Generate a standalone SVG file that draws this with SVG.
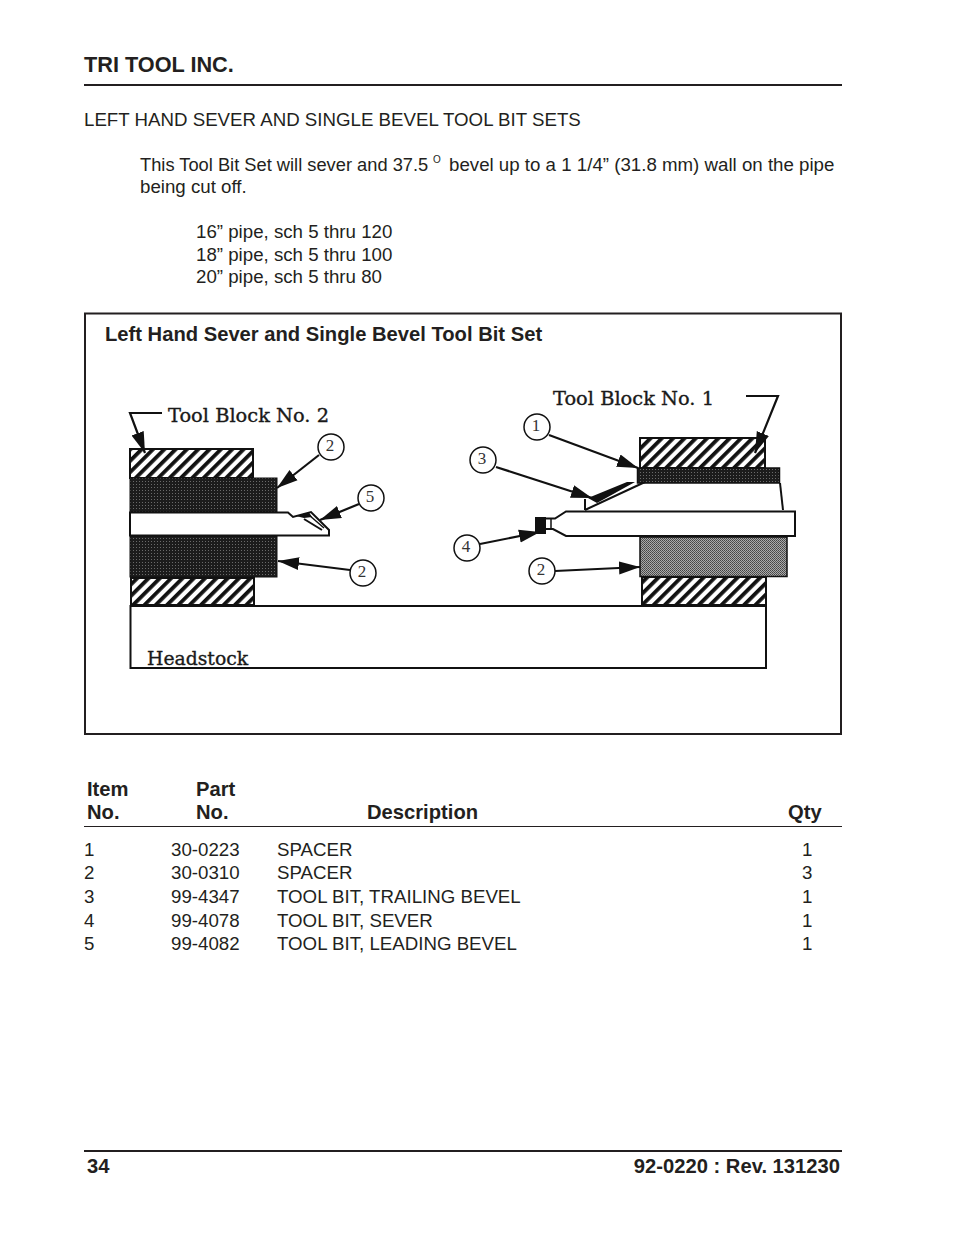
<svg xmlns="http://www.w3.org/2000/svg" width="954" height="1235" viewBox="0 0 954 1235">
<style>
text{font-family:"Liberation Sans",Arial,sans-serif;font-size:18.7px;fill:#231f20}
.b{font-weight:bold;font-size:20.2px}
.h{font-family:"DejaVu Serif","Liberation Serif",serif;font-size:19.4px;fill:#1a1a1a;stroke:#1a1a1a;stroke-width:.35px}
.n{font-family:"Liberation Serif",serif;font-size:17px;fill:#333;text-anchor:middle}
.o{fill:none;stroke:#111;stroke-width:2}
.c{fill:#fff;stroke:#111;stroke-width:1.5}
.l{fill:none;stroke:#111;stroke-width:2.2}
.a{marker-end:url(#ah)}
</style>
<defs>
<marker id="ah" markerUnits="userSpaceOnUse" markerWidth="24" markerHeight="16" refX="21" refY="8" orient="auto"><path d="M0 1.500L21 8L0 14.500Z" fill="#111"/></marker>
<pattern id="hatch" patternUnits="userSpaceOnUse" width="8" height="8" patternTransform="rotate(45)"><rect width="8" height="8" fill="#fff"/><rect width="3.800" height="8" fill="#111"/></pattern>
<pattern id="dark" patternUnits="userSpaceOnUse" width="3" height="3"><rect width="3" height="3" fill="#1c1c1c"/><rect x="1" y="1" width="1" height="1" fill="#6a6a6a"/></pattern>
<pattern id="mid" patternUnits="userSpaceOnUse" width="2" height="2"><rect width="2" height="2" fill="#aaa"/><rect width="1" height="1" fill="#444"/><rect x="1" y="1" width="1" height="1" fill="#555"/></pattern>
</defs>
<rect width="954" height="1235" fill="#fff"/>
<g id="header">
<text class="b" x="84" y="72" style="font-size:21.700px">TRI TOOL INC.</text>
<path d="M84 85H842" stroke="#231f20" stroke-width="2"/>
<text x="84" y="126">LEFT HAND SEVER AND SINGLE BEVEL TOOL BIT SETS</text>
<text x="140" y="171" style="font-size:18.300px">This Tool Bit Set will sever and 37.5</text>
<text x="433" y="163" style="font-size:10px">O</text>
<text x="449" y="171">bevel up to a 1 1/4” (31.8 mm) wall on the pipe</text>
<text x="140" y="193">being cut off.</text>
<text x="196" y="238">16” pipe, sch 5 thru 120</text>
<text x="196" y="261">18” pipe, sch 5 thru 100</text>
<text x="196" y="283">20” pipe, sch 5 thru 80</text>
</g>
<g id="figure-frame">
<rect x="85" y="313.500" width="756" height="420.500" fill="none" stroke="#231f20" stroke-width="2"/>
<text class="b" x="105" y="341">Left Hand Sever and Single Bevel Tool Bit Set</text>
</g>
<g id="headstock">
<rect class="o" x="130.500" y="606" width="635.500" height="62"/>
<text class="h" x="147" y="665" style="font-size:18.800px">Headstock</text>
</g>
<g id="tool-block-2">
<rect class="o" x="130" y="449" width="123" height="29" style="fill:url(#hatch)"/>
<rect class="o" x="131" y="578" width="123" height="27" style="fill:url(#hatch)"/>
<rect x="130" y="478" width="147" height="34" fill="url(#dark)" stroke="#111"/>
<rect x="130" y="536" width="147" height="41" fill="url(#dark)" stroke="#111"/>
<text class="h" x="168" y="422">Tool Block No. 2</text>
</g>
<g id="left-bar">
<path class="o" d="M130 512.500H288L293 517L311 512L329 530V535.500H130Z" style="fill:#fff"/>
<path d="M296 516L309 512.500L312 517L304 518Z" fill="#111"/>
<path d="M304 519L322 530" stroke="#111" stroke-width="2" fill="none"/>
<path d="M309 515L324 528" stroke="#111" stroke-width="1.500" fill="none"/>
</g>
<g id="tool-block-1">
<rect class="o" x="640" y="438" width="125" height="30" style="fill:url(#hatch)"/>
<rect class="o" x="642" y="577" width="124" height="28" style="fill:url(#hatch)"/>
<rect x="637.500" y="468" width="142" height="15" fill="url(#dark)" stroke="#111" stroke-width="1.500"/>
<rect x="640" y="537" width="147" height="39.500" fill="url(#mid)" stroke="#111" stroke-width="1.500"/>
<path class="o" d="M780 483L783 510"/>
<text class="h" x="553" y="405">Tool Block No. 1</text>
</g>
<g id="right-bar">
<path class="o" d="M546 518.500H555L566 511.500H795V536H566L553 529H546" style="fill:#fff"/>
<path d="M551 518.500V529" stroke="#111" stroke-width="1.500"/>
<rect x="535" y="517" width="11" height="17" fill="#111"/>
<path class="o" d="M585 510V499M585 510L645 482"/>
<path d="M588 498L627 482H635L597 503Z" fill="#111"/>
</g>
<g id="connectors">
<path class="l a" d="M162 413H130L145 453"/>
<path class="l a" d="M319 455L277 488"/>
<path class="l a" d="M359 504L320 520"/>
<path class="l a" d="M350 570L278 561"/>
<path class="l a" d="M549 435L638 468"/>
<path class="l a" d="M496 467L592 498"/>
<path class="l a" d="M480 544L540 532"/>
<path class="l a" d="M555 571L640 567"/>
<path class="l a" d="M746 396H778L755 453"/>
</g>
<g id="callout-2a"><circle class="c" cx="331" cy="447" r="13"/><text class="n" x="330" y="451">2</text></g>
<g id="callout-5"><circle class="c" cx="371" cy="498" r="13"/><text class="n" x="370" y="502">5</text></g>
<g id="callout-2b"><circle class="c" cx="363" cy="573" r="13"/><text class="n" x="362" y="577">2</text></g>
<g id="callout-1"><circle class="c" cx="537" cy="427" r="13"/><text class="n" x="536" y="431">1</text></g>
<g id="callout-3"><circle class="c" cx="483" cy="460" r="13"/><text class="n" x="482" y="464">3</text></g>
<g id="callout-4"><circle class="c" cx="467" cy="548" r="13"/><text class="n" x="466" y="552">4</text></g>
<g id="callout-2c"><circle class="c" cx="542" cy="571" r="13"/><text class="n" x="541" y="575">2</text></g>
<g id="parts-table">
<text class="b" x="87" y="796">Item</text><text class="b" x="196" y="796">Part</text>
<text class="b" x="87" y="819">No.</text><text class="b" x="196" y="819">No.</text>
<text class="b" x="367" y="819">Description</text><text class="b" x="788" y="819">Qty</text>
<path d="M84 826.500H842" stroke="#231f20"/>
<text x="84" y="856">1</text><text x="171" y="856">30-0223</text><text x="277" y="856">SPACER</text><text x="802" y="856">1</text>
<text x="84" y="879">2</text><text x="171" y="879">30-0310</text><text x="277" y="879">SPACER</text><text x="802" y="879">3</text>
<text x="84" y="903">3</text><text x="171" y="903">99-4347</text><text x="277" y="903">TOOL BIT, TRAILING BEVEL</text><text x="802" y="903">1</text>
<text x="84" y="927">4</text><text x="171" y="927">99-4078</text><text x="277" y="927">TOOL BIT, SEVER</text><text x="802" y="927">1</text>
<text x="84" y="950">5</text><text x="171" y="950">99-4082</text><text x="277" y="950">TOOL BIT, LEADING BEVEL</text><text x="802" y="950">1</text>
</g>
<g id="footer">
<path d="M84 1151H842" stroke="#231f20" stroke-width="2"/>
<text class="b" x="87" y="1173">34</text>
<text class="b" x="840" y="1173" text-anchor="end">92-0220 : Rev. 131230</text>
</g>
</svg>
